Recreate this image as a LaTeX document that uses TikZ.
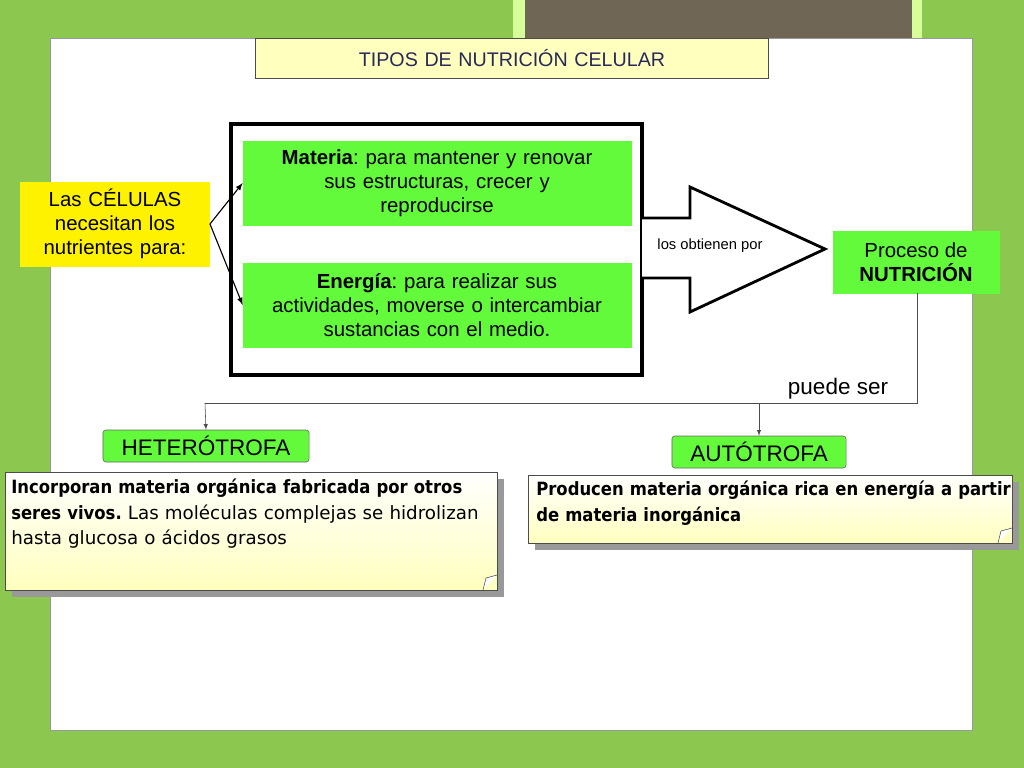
\documentclass[tikz,border=0pt]{standalone}
\usepackage{fontspec}
\setmainfont{Liberation Sans}
\newfontfamily\notesans{DejaVu Sans}
\newfontfamily\notecond{DejaVu Sans Condensed}
\usetikzlibrary{shapes,positioning}
\definecolor{bgreen}{RGB}{140,200,80}
\definecolor{lgreen}{RGB}{100,250,60}
\definecolor{lyellow}{RGB}{255,255,190}
\definecolor{dbrown}{RGB}{112,102,86}
\definecolor{tblue}{RGB}{40,40,90}
\lefthyphenmin=62
\frenchspacing
\begin{document}
\begin{tikzpicture}[x=0.025cm,y=-0.025cm,>=latex]
				\tikzstyle{grbox} = [draw=lgreen, fill=lgreen, align=center, inner sep=2pt, font=\fontsize{14.5}{17}\selectfont]
				\tikzstyle{kind} = [draw=black!60, fill=lgreen, rounded corners=2pt, font=\fontsize{16}{18}\selectfont, inner sep=3pt]
				\tikzstyle{note} = [draw=black!70, top color=white, bottom color=lyellow]
				\tikzstyle{notetext} = [align=left, anchor=north west, inner sep=0pt, font=\fontsize{13}{18}\selectfont]
				\tikzstyle{link} = [->, thick]
				
				\useasboundingbox (0,0) rectangle (1024,768);
				\fill[bgreen] (0,0) rectangle (1024,768);
				\fill[green!20!lime!40] (513,0) rectangle (922,76);
				\fill[dbrown] (525,0) rectangle (912,66);
				\draw[black!40, fill=white] (50,38) rectangle (972,730);
				
				\node[draw=black!70, fill=lyellow, text width=12.6cm, align=center, minimum height=1cm, text=tblue, font=\fontsize{14}{16}\selectfont] (title) at (512,58) {TIPOS DE NUTRICIÓN CELULAR};
				
				\draw[line width=2.5pt] (231,124) rectangle (642,375);
				\node[grbox, minimum width=9.7cm, minimum height=2.1cm, text width=9.5cm] (materia) at (437,183) {\textbf{Materia}: para mantener y renovar\\sus estructuras, crecer y\\reproducirse};
				\node[grbox, minimum width=9.7cm, minimum height=2.1cm, text width=9.5cm] (energia) at (437,305) {\textbf{Energía}: para realizar sus\\actividades, moverse o intercambiar\\sustancias con el medio.};
				\node[draw=yellow, fill=yellow, minimum width=4.7cm, minimum height=2.1cm, text width=4.5cm, align=center, font=\fontsize{14.5}{17}\selectfont] (celulas) at (115,224) {Las CÉLULAS necesitan los nutrientes para:};
				\draw[link] (celulas.east) -- (materia.west);
				\draw[link] (celulas.east) -- (energia.west);
				
				\draw[line width=2pt, fill=white] (642,218) -- (690,218) -- (690,187) -- (825,249) -- (690,312) -- (690,278) -- (642,278);
				\node[font=\fontsize{10.5}{12}\selectfont] (obtienen) at (710,246) {los obtienen por};
				\node[grbox, minimum width=4.15cm, minimum height=1.55cm] (proceso) at (916,262) {Proceso de\\\textbf{NUTRICIÓN}};
				
				\coordinate (turn) at (917,403);
				\coordinate (hsplit) at (205,403);
				\draw[black!70] (proceso.south -| turn) -- (turn) -- (hsplit);
				\node[font=\fontsize{16}{18}\selectfont, anchor=south] (puede) at (838,404) {puede ser};
				
				\node[kind, minimum width=5.15cm, minimum height=0.8cm] (hetero) at (206,446) {HETERÓTROFA};
				\node[kind, minimum width=4.35cm, minimum height=0.8cm] (auto) at (759,452) {AUTÓTROFA};
				\draw[->, black!70] (hsplit) -- (hetero.north);
				\draw[->, black!70] (auto.north |- turn) -- (auto.north);
				
				% notes with shadow and folded corner
				\fill[black!40] (12,479) rectangle (504,597);
				\draw[note] (5,472) rectangle (497,590);
				\node[notetext, text width=12.1cm] (hnote) at (11,479) {{\notecond\bfseries Incorporan materia orgánica fabricada por otros seres vivos.} {\notesans Las moléculas complejas se hidrolizan hasta glucosa o ácidos grasos}};
				\fill[black!40] (535,482) rectangle (1019,550);
				\draw[note] (528,475) rectangle (1012,543);
				\node[notetext, text width=11.9cm] (anote) at (536,481) {\notecond\bfseries Producen materia orgánica rica en energía a partir de materia inorgánica};
				\draw[black!70, fill=white] (483,590) -- (486,578) -- (497,575);
				\draw[black!70, fill=white] (998,543) -- (1001,531) -- (1012,528);
\end{tikzpicture}
\end{document}
